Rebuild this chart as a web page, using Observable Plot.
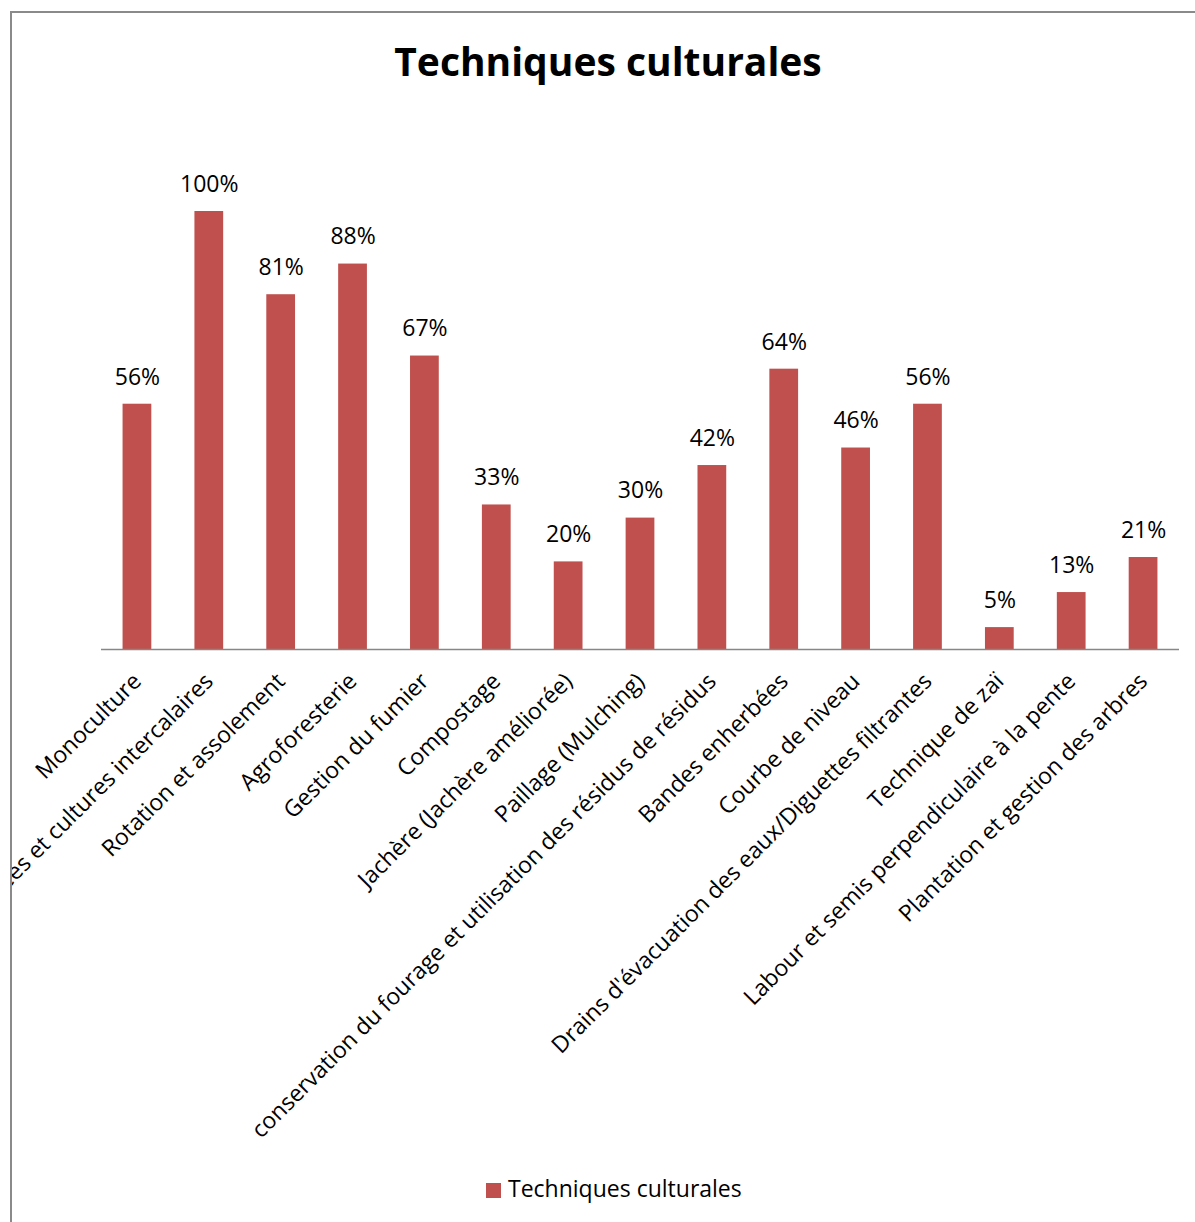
<!DOCTYPE html>
<html>
<head>
<meta charset="utf-8">
<script src="https://cdn.jsdelivr.net/npm/d3@7"></script>
<script src="https://cdn.jsdelivr.net/npm/@observablehq/plot@0.6"></script>
<style>
  html, body { margin: 0; padding: 0; background: #fff; }
  #frame {
    position: absolute; left: 10px; top: 11px;
    width: 1200px; height: 1230px;
    border-left: 2px solid #8a8a8a; border-top: 2px solid #8a8a8a;
    overflow: hidden; font-family: "Open Sans", sans-serif;
  }
  #title {
    position: absolute; left: 0; top: 28px; width: 1192px;
    text-align: center; font-weight: 700; font-size: 39px; line-height: 1;
    color: #000;
  }
  #chart { position: absolute; left: 0; top: 0; }
  #legend {
    position: absolute; left: 474px; top: 1164px; line-height: 1;
    font-size: 23px; color: #000; white-space: nowrap;
  }
  #legend .sw {
    display: inline-block; width: 15px; height: 15px; background: #C0504D;
    margin-right: 7px; vertical-align: -1px;
  }
</style>
</head>
<body>
<div id="frame">
  <div id="chart"></div>
  <div id="title">Techniques culturales</div>
  <div id="legend"><span class="sw"></span>Techniques culturales</div>
</div>
<script>
const categories = [
  "Monoculture",
  "Cultures associées et cultures intercalaires",
  "Rotation et assolement",
  "Agroforesterie",
  "Gestion du fumier",
  "Compostage",
  "Jachère (Jachère améliorée)",
  "Paillage (Mulching)",
  "conservation du fourage et utilisation des résidus de résidus",
  "Bandes enherbées",
  "Courbe de niveau",
  "Drains d'évacuation des eaux/Diguettes filtrantes",
  "Technique de zaï",
  "Labour et semis perpendiculaire à la pente",
  "Plantation et gestion des arbres"
];
const values = [0.56, 1.00, 0.81, 0.88, 0.67, 0.33, 0.20, 0.30, 0.42, 0.64, 0.46, 0.56, 0.05, 0.13, 0.21];
const seriesName = "Techniques culturales";

const data = categories.map((c, i) => ({category: c, value: values[i]}));
const color = "#C0504D";

const chart = Plot.plot({
  width: 1183,
  height: 1140,
  marginLeft: 89,
  marginRight: 16,
  marginTop: 198,
  marginBottom: 504,
  style: {fontFamily: "Open Sans, sans-serif", fontSize: "23px", color: "#000", background: "transparent", overflow: "visible"},
  x: {domain: categories, paddingInner: 0.6, paddingOuter: 0.3, round: false, axis: null},
  y: {domain: [0, 1], axis: null},
  marks: [
    Plot.barY(data, {x: "category", y: "value", fill: color}),
    Plot.ruleY([0], {stroke: "#878787", strokeWidth: 1.5}),
    Plot.text(data, {
      x: "category", y: "value",
      text: d => Math.round(d.value * 100) + "%",
      dy: -27, fontSize: 23, fill: "#000", lineAnchor: "middle"
    }),
    Plot.text(data, {
      x: "category", y: () => 0,
      text: "category",
      rotate: -45, textAnchor: "end", lineAnchor: "middle",
      dx: 0, dy: 28, fontSize: 23, fill: "#000"
    })
  ]
});
document.getElementById("chart").appendChild(chart);
</script>
</body>
</html>
